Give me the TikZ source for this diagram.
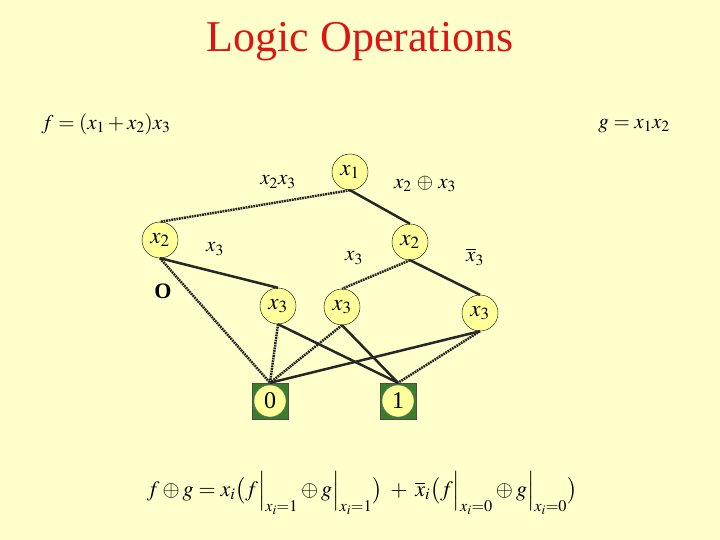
\documentclass[tikz,border=0pt]{standalone}
\usepackage{amsmath}
\usepackage{mathptmx}
\usepackage{fontspec}
\setmainfont{Liberation Serif}
\definecolor{bgyellow}{RGB}{255,255,204}
\definecolor{nodeyellow}{RGB}{255,255,153}
\definecolor{leafgreen}{RGB}{60,125,45}
\definecolor{titlered}{RGB}{220,20,20}
\begin{document}
\begin{tikzpicture}[x=1pt,y=-1pt,
  bdd/.style={circle,draw=black,thin,fill=nodeyellow,minimum size=36pt,inner sep=0pt,font=\fontsize{23}{25}\selectfont},
  leaf/.style={rectangle,draw=black!70,fill=leafgreen,minimum size=36pt,inner sep=0pt},
  leaftxt/.style={bdd,minimum size=32pt,draw=black!60,font=\fontsize{24}{26}\selectfont},
  hi/.style={line width=2.5pt,black!85},
  lo/.style={line width=2.5pt,black!85,dash pattern=on 1.8pt off 0.8pt},
  lbl/.style={font=\fontsize{21}{23}\selectfont}]
  \fill[bgyellow] (0,0) rectangle (720,540);
  \useasboundingbox (0,0) rectangle (720,540);
  \node[text=titlered,font=\fontsize{44}{48}\selectfont] (title) at (360,42) {Logic Operations};
  \node[lbl] (fdef) at (106,124) {$f=(x_1+x_2)x_3$};
  \node[lbl] (gdef) at (634,126) {$g=x_1x_2$};
  % nodes
  \node[bdd] (x1) at (350,172) {$x_1$};
  \node[bdd] (x2l) at (160,240) {$x_2$};
  \node[bdd] (x2r) at (410,242) {$x_2$};
  \node[bdd] (x3a) at (278,306) {$x_3$};
  \node[bdd] (x3b) at (342,307) {$x_3$};
  \node[bdd] (x3c) at (480,313) {$x_3$};
  \node[leaf] (zero) at (270,401) {};
  \node[leaftxt] (zerotxt) at (zero) {0};
  \node[leaf] (one) at (398,401) {};
  \node[leaftxt] (onetxt) at (one) {1};
  % edges
  \draw[lo] (x1.south) -- (x2l.north);
  \draw[hi] (x1.south) -- (x2r.north);
  \draw[hi] (x2l.south) -- (x3a.north);
  \draw[lo] (x2l.south) -- (zero.north);
  \draw[lo] (x2r.south) -- (x3b.north);
  \draw[hi] (x2r.south) -- (x3c.north);
  \draw[lo] (x3a.south) -- (zero.north);
  \draw[hi] (x3a.south) -- (one.north);
  \draw[lo] (x3b.south) -- (zero.north);
  \draw[hi] (x3b.south) -- (one.north);
  \draw[hi] (x3c.south) -- (zero.north);
  \draw[lo] (x3c.south) -- (one.north);
  % edge labels
  \node[lbl] (l23) at (278,182) {$x_2x_3$};
  \node[lbl] (lxor) at (425,184) {$x_2\,\oplus\,x_3$};
  \node[lbl] (l3a) at (215,249) {$x_3$};
  \node[lbl] (l3b) at (354,258) {$x_3$};
  \node[lbl] (l3c) at (475,257) {$\overline{x}_3$};
  \node[font=\fontsize{22}{24}\selectfont\bfseries] (lo) at (163,291) {O};
  \node[font=\fontsize{22}{26}\selectfont] (shannon) at (362,493)
    {$f\oplus g = x_i\bigl(f\Big|_{x_i=1}\oplus g\Big|_{x_i=1}\bigr) \;+\; \overline{x}_i\bigl(f\Big|_{x_i=0}\oplus g\Big|_{x_i=0}\bigr)$};
\end{tikzpicture}
\end{document}
